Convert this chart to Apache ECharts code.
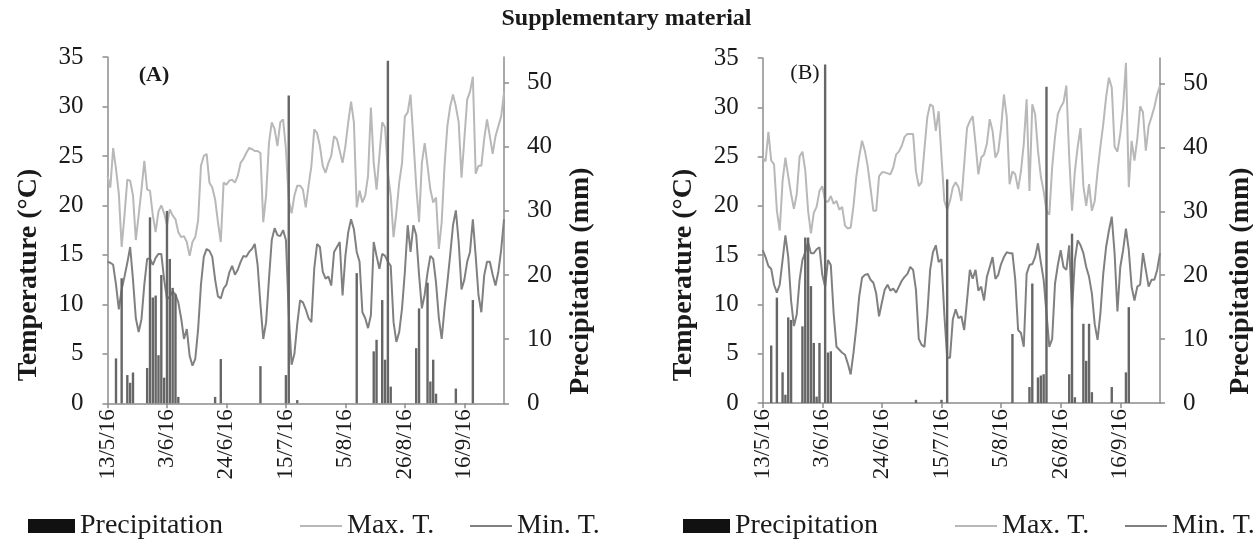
<!DOCTYPE html>
<html>
<head>
<meta charset="utf-8">
<title>Supplementary material</title>
<script src="https://cdn.jsdelivr.net/npm/echarts/dist/echarts.min.js"></script>
<style>
  html, body { margin: 0; padding: 0; background: #fff; }
  #main { width: 1253px; height: 549px; }
</style>
</head>
<body>
<div id="main"></div>
<script>
// ---- data ----
// daily records from 13/5/16 to 30/9/16
var dayCount = 141;
var tickLabels = ['13/5/16', '3/6/16', '24/6/16', '15/7/16', '5/8/16', '26/8/16', '16/9/16'];

// panel (A)
var maxTA = [
  23.0, 21.8, 25.8, 23.7, 21.2, 15.8, 19.0, 22.6, 22.5, 21.0,
  16.5, 19.0, 21.6, 24.5, 21.6, 21.5, 19.0, 17.3, 19.4, 20.0,
  19.2, 18.0, 19.6, 19.0, 18.6, 17.3, 16.8, 16.9, 16.3, 14.9,
  16.3, 16.8, 18.5, 24.0, 25.0, 25.2, 22.3, 21.8, 20.6, 18.3,
  16.3, 22.3, 22.1, 22.5, 22.6, 22.3, 23.0, 24.3, 24.7, 25.3,
  25.8, 25.7, 25.5, 25.5, 25.3, 18.3, 21.0, 26.3, 28.4, 27.7,
  26.0, 28.4, 28.7, 25.7, 20.5, 19.2, 21.0, 22.0, 22.0, 21.6,
  19.8, 22.0, 24.0, 27.7, 27.3, 26.0, 24.0, 23.3, 24.3, 25.0,
  27.0, 26.7, 25.5, 24.3, 26.0, 28.4, 30.5, 28.4, 19.8, 21.5,
  20.3, 21.0, 23.0, 29.9, 24.3, 21.6, 25.0, 28.4, 27.9, 23.3,
  21.0, 16.8, 19.3, 22.3, 24.3, 29.0, 29.4, 31.2, 26.7, 22.0,
  18.3, 24.3, 26.3, 24.0, 21.6, 20.3, 20.8, 15.6, 18.3, 24.0,
  28.0, 30.0, 31.2, 30.0, 28.4, 22.8, 26.7, 30.7, 31.5, 33.0,
  23.2, 24.0, 24.0, 26.7, 28.7, 27.0, 25.2, 27.0, 28.0, 29.0,
  31.4
];
var minTA = [
  14.3, 14.2, 14.0, 12.0, 9.5, 11.5, 12.8, 14.2, 15.8, 12.5,
  8.6, 7.2, 8.5, 12.0, 14.6, 14.6, 14.0, 14.7, 15.1, 15.1,
  12.5, 10.5, 10.8, 11.3, 11.0, 10.2, 8.6, 6.5, 7.5, 4.8,
  3.8, 4.5, 7.5, 12.0, 14.8, 15.6, 15.4, 14.8, 12.5, 10.8,
  10.6, 11.6, 12.0, 13.2, 13.9, 13.0, 13.5, 14.3, 14.9, 14.8,
  15.3, 15.6, 16.1, 14.0, 10.0, 6.5, 8.2, 12.5, 16.5, 17.7,
  17.0, 16.9, 17.5, 16.5, 9.0, 3.9, 5.0, 8.0, 10.4, 10.2,
  9.5, 8.6, 8.2, 13.6, 16.1, 15.8, 13.3, 12.6, 12.8, 11.9,
  15.3, 15.8, 16.3, 10.9, 14.9, 17.3, 18.6, 17.6, 15.3, 14.3,
  9.2, 8.6, 7.6, 8.9, 16.3, 14.9, 13.6, 15.1, 14.9, 14.3,
  13.9, 8.2, 6.2, 7.2, 9.6, 13.3, 18.0, 15.3, 18.0, 17.0,
  13.0, 9.6, 11.0, 13.2, 14.9, 14.6, 12.2, 8.6, 6.5, 9.6,
  12.2, 15.0, 18.0, 19.5, 16.3, 11.5, 12.5, 14.3, 15.3, 18.6,
  14.9, 10.9, 9.2, 12.9, 14.3, 14.3, 13.0, 11.9, 13.3, 15.5,
  18.6
];
// day index (0 = 13/5/16) and rain amount in mm
var rainDaysA = [3, 5, 7, 8, 9, 14, 15, 16, 17, 18, 19, 20, 21, 22, 23, 24, 25, 38, 40, 54,
  63, 64, 67, 88, 94, 95, 97, 98, 99, 100, 109, 110, 113, 114, 115, 116, 123, 129];
var rainA = [7.0, 19.5, 4.4, 3.2, 4.8, 5.5, 29.0, 16.5, 16.8, 7.5, 20.0, 4.0, 30.0, 22.5, 18.0, 17.0, 1.0, 1.0, 6.9, 5.8,
  4.4, 48.0, 0.5, 20.3, 8.1, 9.9, 16.1, 6.8, 53.4, 2.6, 8.6, 14.8, 18.8, 3.4, 6.8, 1.5, 2.3, 16.1];

// panel (B)
var maxTB = [
  24.9, 24.5, 27.5, 24.6, 24.2, 19.5, 17.5, 22.5, 24.9, 23.0,
  21.2, 19.7, 21.2, 25.0, 25.5, 23.6, 19.5, 17.2, 19.3, 19.9,
  21.5, 22.0, 20.5, 20.4, 21.0, 20.2, 20.5, 19.6, 19.9, 18.0,
  17.7, 17.8, 20.0, 23.0, 25.0, 26.6, 25.6, 24.0, 21.8, 19.5,
  19.5, 23.0, 23.4, 23.4, 23.3, 23.2, 23.9, 25.2, 25.5, 26.1,
  27.0, 27.3, 27.3, 27.3, 23.5, 22.0, 22.4, 25.8, 29.0, 30.3,
  30.1, 27.6, 29.6, 25.0, 20.5, 19.6, 20.5, 21.9, 22.4, 21.9,
  20.5, 24.2, 27.9, 28.6, 29.1, 26.3, 23.2, 24.9, 25.2, 26.3,
  28.8, 27.6, 24.9, 25.5, 27.9, 31.3, 29.0, 22.2, 23.5, 23.2,
  21.7, 23.5, 26.3, 30.8, 21.5, 30.3, 29.3, 25.6, 23.0, 21.5,
  19.5, 19.1, 23.9, 27.0, 29.3, 30.0, 30.5, 32.2, 25.0, 19.5,
  23.5, 26.0, 27.9, 22.0, 20.0, 22.2, 19.5, 20.5, 23.5, 26.0,
  28.3, 31.0, 33.0, 32.0, 26.0, 25.5, 27.3, 30.0, 34.5, 21.9,
  26.6, 24.6, 26.8, 30.1, 29.5, 25.6, 28.1, 29.0, 30.0, 31.3,
  32.2
];
var minTB = [
  15.5, 14.8, 13.9, 13.6, 12.0, 11.2, 12.0, 14.5, 17.0, 14.8,
  10.4, 7.8, 9.0, 12.5, 14.5, 15.3, 16.3, 15.2, 15.2, 15.6,
  15.8, 13.0, 11.8, 14.5, 14.0, 9.1, 5.7, 5.4, 5.1, 4.9,
  4.0, 2.9, 5.1, 7.7, 10.8, 12.7, 13.0, 13.1, 12.5, 12.2,
  11.1, 8.8, 10.2, 11.5, 12.0, 11.4, 11.6, 11.2, 11.8, 12.4,
  12.8, 13.1, 13.8, 13.5, 11.5, 6.5, 5.9, 5.7, 9.0, 13.5,
  15.3, 16.0, 14.3, 14.6, 9.0, 4.6, 4.6, 8.5, 9.5, 8.6,
  8.8, 7.4, 10.4, 13.5, 12.6, 13.5, 11.4, 11.8, 10.4, 12.8,
  13.8, 14.8, 12.6, 13.0, 14.1, 14.8, 15.3, 15.2, 15.2, 12.5,
  7.4, 7.1, 5.7, 13.1, 14.0, 14.1, 14.8, 16.2, 14.3, 12.5,
  9.1, 5.7, 6.5, 12.1, 14.0, 15.5, 13.8, 13.5, 16.0, 9.4,
  14.5, 16.5, 16.0, 15.2, 13.8, 12.8, 11.1, 8.0, 6.4, 9.1,
  13.1, 15.8, 17.5, 18.9, 15.2, 9.3, 13.8, 15.5, 17.7, 15.5,
  11.8, 10.4, 11.8, 12.0, 15.2, 13.5, 11.8, 12.5, 12.5, 13.5,
  15.2
];
var rainDaysB = [3, 5, 7, 8, 9, 10, 14, 15, 16, 17, 18, 19, 20, 22, 23, 24, 54, 63, 65, 88,
  94, 95, 97, 98, 99, 100, 108, 109, 110, 113, 114, 115, 116, 123, 128, 129];
var rainB = [9.0, 16.5, 4.8, 1.3, 13.4, 13.0, 12.0, 25.9, 25.9, 18.3, 9.4, 1.0, 9.4, 53.0, 7.9, 8.1, 0.5, 0.5, 35.0, 10.8,
  2.5, 18.7, 4.0, 4.3, 4.5, 49.5, 4.5, 26.5, 0.9, 12.4, 6.6, 12.4, 1.7, 2.5, 4.8, 15.0];

// ---- helpers ----
// category labels d/m/16 for every day
var dates = [];
var day = new Date(2016, 4, 13);
for (var i = 0; i < dayCount; i++) {
  dates.push(day.getDate() + '/' + (day.getMonth() + 1) + '/16');
  day.setDate(day.getDate() + 1);
}

function rainSeriesData(days, amounts) {
  return days.map(function (d, k) { return [dates[d], amounts[k]]; });
}

var SERIF = '"Liberation Serif", "Times New Roman", serif';
var AXIS_GREY = '#8c8c8c';
var TEXT = '#1a1a1a';
var C_RAIN = '#666666';
var C_MAX = '#b8b8b8';
var C_MIN = '#808080';

var grids = [
  { left: 107.5, top: 57, width: 396.5, height: 346.3 },
  { left: 762.7, top: 58, width: 397.3, height: 345 }
];

function xAxisFor(idx) {
  return {
    type: 'category', gridIndex: idx, data: dates, boundaryGap: false,
    axisLine: { lineStyle: { color: AXIS_GREY, width: 1.5 } },
    axisTick: { interval: 20, length: 5, lineStyle: { color: AXIS_GREY, width: 1.5 } },
    axisLabel: {
      interval: 20, rotate: 90, margin: 6, color: TEXT, fontFamily: SERIF, fontSize: 23,
      formatter: function (v) { return tickLabels.indexOf(v) >= 0 ? v : ''; }
    },
    splitLine: { show: false }
  };
}
function tempAxisFor(idx) {
  return {
    type: 'value', gridIndex: idx, position: 'left', min: 0, max: 35, interval: 5,
    axisLine: { show: true, lineStyle: { color: AXIS_GREY, width: 1.5 } },
    axisTick: { show: true, length: 5, lineStyle: { color: AXIS_GREY, width: 1.5 } },
    axisLabel: { color: TEXT, fontFamily: SERIF, fontSize: 25, margin: 24 },
    splitLine: { show: false }
  };
}
function rainAxisFor(idx) {
  return {
    type: 'value', gridIndex: idx, position: 'right', min: 0, max: 54, interval: 10,
    axisLine: { show: true, lineStyle: { color: AXIS_GREY, width: 1.5 } },
    axisTick: { show: true, length: 5, lineStyle: { color: AXIS_GREY, width: 1.5 } },
    axisLabel: { color: TEXT, fontFamily: SERIF, fontSize: 25, margin: 23, showMaxLabel: false },
    splitLine: { show: false }
  };
}
function lineSeries(name, color, data, idx) {
  return {
    name: name, type: 'line', xAxisIndex: idx, yAxisIndex: idx * 2,
    data: data, symbol: 'none', smooth: false, z: 2,
    lineStyle: { color: color, width: 2 }, itemStyle: { color: color }
  };
}
function barSeries(data, idx) {
  return {
    name: 'Precipitation', type: 'bar', xAxisIndex: idx, yAxisIndex: idx * 2 + 1,
    data: data, barWidth: 2.4, z: 3, itemStyle: { color: C_RAIN }
  };
}
// three separate legends per panel so each key sits where the original has it
function legendSet(x0) {
  var base = {
    top: 512, orient: 'horizontal', selectedMode: false, padding: 0,
    textStyle: { color: TEXT, fontFamily: SERIF, fontSize: 28 }
  };
  return [
    Object.assign({}, base, { left: x0, itemWidth: 47, itemHeight: 14,
      data: [{ name: 'Precipitation', icon: 'rect', itemStyle: { color: '#111' } }] }),
    Object.assign({}, base, { left: x0 + 272, itemWidth: 42, itemHeight: 2,
      data: [{ name: 'Max. T.', icon: 'rect', itemStyle: { color: C_MAX } }] }),
    Object.assign({}, base, { left: x0 + 442, itemWidth: 42, itemHeight: 2,
      data: [{ name: 'Min. T.', icon: 'rect', itemStyle: { color: C_MIN } }] })
  ];
}
function vText(text, x, y) {
  return {
    type: 'text', x: x, y: y, rotation: Math.PI / 2,
    style: { text: text, fill: TEXT, font: 'bold 28px ' + SERIF, align: 'center', verticalAlign: 'middle' }
  };
}

var option = {
  backgroundColor: '#fff',
  animation: false,
  title: {
    text: 'Supplementary material', left: 'center', top: 2,
    textStyle: { color: TEXT, fontFamily: SERIF, fontSize: 24, fontWeight: 'bold' }
  },
  legend: legendSet(28).concat(legendSet(683)),
  grid: grids,
  xAxis: [xAxisFor(0), xAxisFor(1)],
  yAxis: [tempAxisFor(0), rainAxisFor(0), tempAxisFor(1), rainAxisFor(1)],
  series: [
    lineSeries('Max. T.', C_MAX, maxTA, 0),
    lineSeries('Min. T.', C_MIN, minTA, 0),
    barSeries(rainSeriesData(rainDaysA, rainA), 0),
    lineSeries('Max. T.', C_MAX, maxTB, 1),
    lineSeries('Min. T.', C_MIN, minTB, 1),
    barSeries(rainSeriesData(rainDaysB, rainB), 1)
  ],
  graphic: [
    vText('Temperature (\u00B0C)', 29, 275),
    vText('Precipitation (mm)', 581, 281),
    vText('Temperature (\u00B0C)', 684, 275),
    vText('Precipitation (mm)', 1241, 281),
    { type: 'text', x: 154, y: 75, style: { text: '(A)', fill: TEXT, font: 'bold 22px ' + SERIF, align: 'center', verticalAlign: 'middle' } },
    { type: 'text', x: 805, y: 73, style: { text: '(B)', fill: TEXT, font: '22px ' + SERIF, align: 'center', verticalAlign: 'middle' } }
  ]
};

var chart = echarts.init(document.getElementById('main'));
chart.setOption(option);
</script>
</body>
</html>
